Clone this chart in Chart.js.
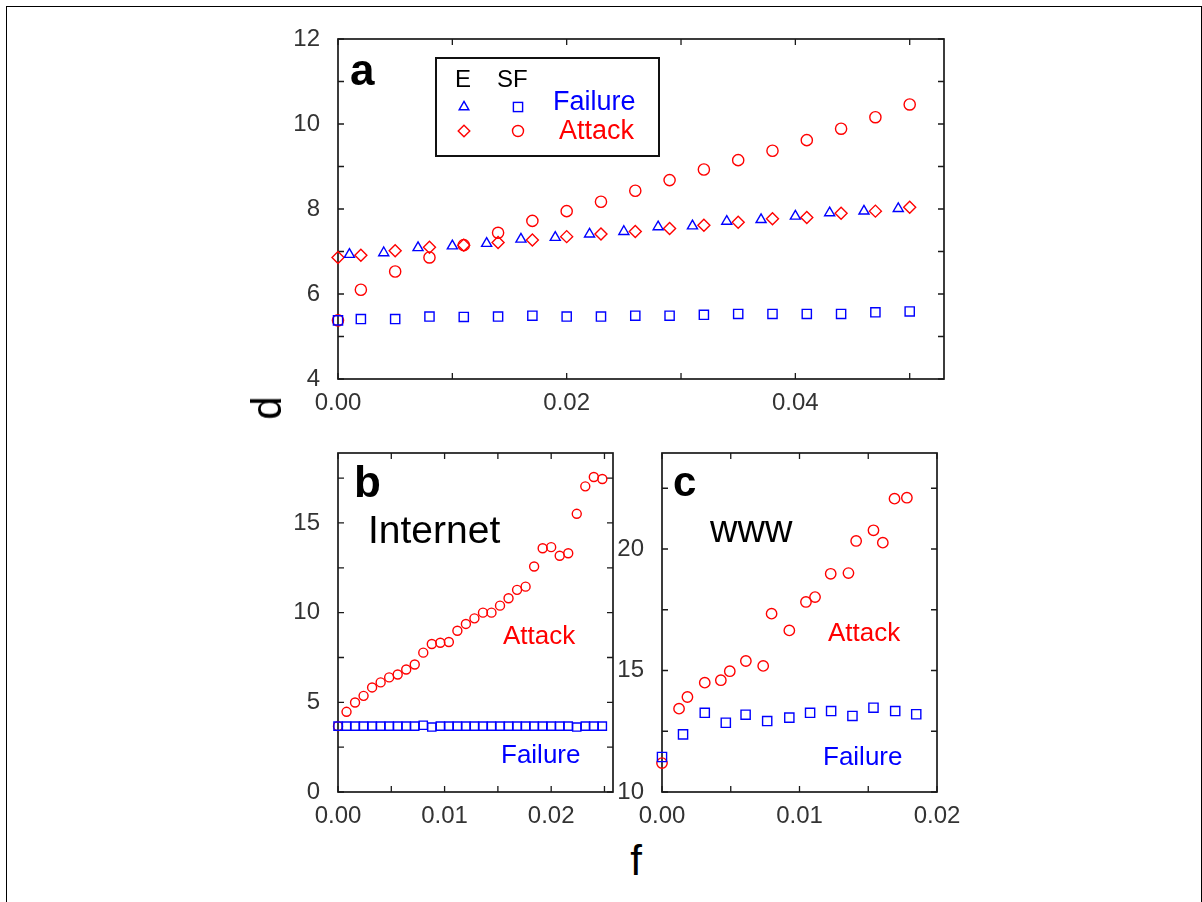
<!DOCTYPE html>
<html lang="en">
<head>
<meta charset="UTF-8" />
<title>Network diameter under failure and attack</title>
<script src="https://cdn.jsdelivr.net/npm/chart.js"></script>
<style>
  * { margin: 0; padding: 0; box-sizing: border-box; }
  body {
    width: 1202px; height: 902px; background: #fff;
    position: relative; overflow: hidden;
    font-family: 'Liberation Sans', Arial, sans-serif;
  }
  .frame {
    position: absolute; left: 6px; top: 6px; width: 1196px; height: 920px;
    border: 1.5px solid #000; border-bottom: none;
  }
  canvas { position: absolute; }
  .txt { position: absolute; white-space: nowrap; line-height: 1; }
  .red { color: #ff0000; }
  .blue { color: #0000ff; }
  .legend-box {
    position: absolute; left: 435px; top: 57px; width: 225px; height: 100px;
    border: 2px solid #111;
  }
</style>
</head>
<body>
<div class="frame"></div>

<!-- plot areas: a 338..944 x 39..379, b 338..613 x 453..792, c 662..937 x 453..792 -->
<canvas id="chartA" width="720" height="417" style="left:258px; top:3px;"></canvas>
<canvas id="chartB" width="360" height="413" style="left:290px; top:417px;"></canvas>
<canvas id="chartC" width="390" height="413" style="left:600px; top:417px;"></canvas>

<!-- legend of panel a -->
<div class="legend-box"></div>
<svg style="position:absolute; left:0; top:0;" width="1202" height="200">
  <g fill="none" stroke-width="1.4">
    <polygon points="464,101.4 468.85,109.8 459.15,109.8" stroke="#0000ff"/>
    <rect x="513.4" y="102.4" width="9.2" height="9.2" stroke="#0000ff"/>
    <polygon points="464,125.2 469.8,131 464,136.8 458.2,131" stroke="#ff0000"/>
    <circle cx="518" cy="131" r="5.5" stroke="#ff0000"/>
  </g>
</svg>
<div class="txt" style="left:455px; top:66.7px; font-size:24px;">E</div>
<div class="txt" style="left:497px; top:66.7px; font-size:24px;">SF</div>
<div class="txt blue" style="left:553px; top:88px; font-size:27px;">Failure</div>
<div class="txt red" style="left:559px; top:117px; font-size:27px;">Attack</div>

<!-- panel labels -->
<div class="txt" style="left:350px; top:48px; font-size:44px; font-weight:bold;">a</div>
<div class="txt" style="left:354px; top:460px; font-size:44px; font-weight:bold;">b</div>
<div class="txt" style="left:673px; top:461px; font-size:42px; font-weight:bold;">c</div>
<div class="txt" style="left:368px; top:510px; font-size:39px;">Internet</div>
<div class="txt" style="left:710px; top:510px; font-size:38px;">www</div>
<div class="txt red" style="left:503px; top:622px; font-size:26px;">Attack</div>
<div class="txt blue" style="left:501px; top:741px; font-size:26px;">Failure</div>
<div class="txt red" style="left:828px; top:619px; font-size:26px;">Attack</div>
<div class="txt blue" style="left:823px; top:743px; font-size:26px;">Failure</div>

<!-- axis titles -->
<div class="txt" style="left:267px; top:408px; font-size:42px; transform:translate(-50%,-50%) rotate(-90deg);">d</div>
<div class="txt" style="left:636px; top:861px; font-size:42px; transform:translate(-50%,-50%);">f</div>

<script>
// ---- panel a : exponential (E) vs scale-free (SF) model ----
const aSfX = [0, 0.002, 0.005, 0.008, 0.011, 0.014, 0.017, 0.020, 0.023, 0.026, 0.029, 0.032, 0.035, 0.038, 0.041, 0.044, 0.047, 0.050];
const aSfFailure = [5.38, 5.41, 5.41, 5.47, 5.46, 5.47, 5.49, 5.47, 5.47, 5.49, 5.49, 5.51, 5.53, 5.53, 5.53, 5.53, 5.57, 5.59];
const aSfAttack = [5.38, 6.10, 6.53, 6.86, 7.15, 7.44, 7.72, 7.95, 8.17, 8.43, 8.68, 8.93, 9.15, 9.37, 9.62, 9.89, 10.16, 10.46];
const aEAttack = [6.86, 6.91, 7.02, 7.10, 7.15, 7.21, 7.27, 7.35, 7.41, 7.47, 7.54, 7.62, 7.69, 7.77, 7.80, 7.90, 7.95, 8.04];
const aEFailX = [0.001, 0.004, 0.007, 0.010, 0.013, 0.016, 0.019, 0.022, 0.025, 0.028, 0.031, 0.034, 0.037, 0.040, 0.043, 0.046, 0.049];
const aEFailure = [6.93, 6.97, 7.09, 7.13, 7.19, 7.29, 7.33, 7.41, 7.47, 7.58, 7.60, 7.71, 7.75, 7.83, 7.91, 7.95, 8.01];

// ---- panel b : Internet ----
const bX = [0, 0.0008, 0.0016, 0.0024, 0.0032, 0.0040, 0.0048, 0.0056, 0.0064, 0.0072, 0.0080, 0.0088, 0.0096, 0.0104, 0.0112, 0.0120,
            0.0128, 0.0136, 0.0144, 0.0152, 0.0160, 0.0168, 0.0176, 0.0184, 0.0192, 0.0200, 0.0208, 0.0216, 0.0224, 0.0232, 0.0240, 0.0248];
const bAttack = [3.67, 4.47, 4.99, 5.36, 5.83, 6.11, 6.39, 6.55, 6.83, 7.11, 7.77, 8.25, 8.32, 8.36, 8.99, 9.37,
                 9.68, 10.0, 10.0, 10.39, 10.80, 11.27, 11.45, 12.57, 13.59, 13.65, 13.17, 13.31, 15.51, 17.04, 17.56, 17.45];
const bFailure = [3.67, 3.67, 3.67, 3.67, 3.67, 3.67, 3.67, 3.67, 3.67, 3.67, 3.72, 3.62, 3.67, 3.67, 3.67, 3.67,
                  3.67, 3.67, 3.67, 3.67, 3.67, 3.67, 3.67, 3.67, 3.67, 3.67, 3.67, 3.67, 3.62, 3.67, 3.67, 3.67];

// ---- panel c : WWW ----
const cAttackX = [0, 0.00124, 0.00185, 0.00311, 0.00428, 0.00493, 0.0061, 0.00736, 0.00797, 0.00926, 0.01047, 0.01113, 0.01227, 0.01356, 0.01412, 0.01538, 0.01606, 0.01691, 0.01781];
const cAttack = [11.19, 13.43, 13.91, 14.50, 14.60, 14.97, 15.39, 15.19, 17.34, 16.65, 17.82, 18.02, 18.98, 19.01, 20.33, 20.77, 20.26, 22.07, 22.11];
const cFailX = [0, 0.00153, 0.00311, 0.00464, 0.00608, 0.00765, 0.00926, 0.01077, 0.0123, 0.01385, 0.01538, 0.01696, 0.01849];
const cFailure = [11.44, 12.37, 13.26, 12.85, 13.18, 12.92, 13.06, 13.26, 13.33, 13.13, 13.47, 13.33, 13.20];

// ticks (marks) and tick labels
const aXTicks = [0, 0.01, 0.02, 0.03, 0.04, 0.05];
const aXLabels = [0, 0.02, 0.04];
const aYTicks = [4, 5, 6, 7, 8, 9, 10, 11, 12];
const aYLabels = [4, 6, 8, 10, 12];
const bXTicks = [0, 0.005, 0.01, 0.015, 0.02, 0.025];
const bXLabels = [0, 0.01, 0.02];
const bYTicks = [0, 2.5, 5, 7.5, 10, 12.5, 15, 17.5];
const bYLabels = [0, 5, 10, 15];
const cXTicks = [0, 0.005, 0.01, 0.015, 0.02];
const cXLabels = [0, 0.01, 0.02];
const cYTicks = [10, 12.5, 15, 17.5, 20, 22.5];
const cYLabels = [10, 15, 20];

const RED = '#ff0000', BLUE = '#0000ff';

Chart.defaults.font.family = "'Liberation Sans', Arial, sans-serif";
Chart.defaults.font.size = 24;
Chart.defaults.color = '#333';
Chart.defaults.animation = false;

// box round the plot area + inward ticks on the four sides
const frameTicks = {
  id: 'frameTicks',
  beforeDatasetsDraw(chart, args, opts) {
    const { ctx, chartArea: a, scales: { x, y } } = chart;
    const L = 6;
    ctx.save();
    ctx.strokeStyle = '#1a1a1a';
    ctx.lineWidth = 1.7;
    ctx.strokeRect(a.left, a.top, a.right - a.left, a.bottom - a.top);
    ctx.lineWidth = 1.3;
    ctx.beginPath();
    opts.xTicks.forEach(v => {
      const px = x.getPixelForValue(v);
      ctx.moveTo(px, a.bottom); ctx.lineTo(px, a.bottom - L);
      ctx.moveTo(px, a.top); ctx.lineTo(px, a.top + L);
    });
    opts.yTicks.forEach(v => {
      const py = y.getPixelForValue(v);
      ctx.moveTo(a.left, py); ctx.lineTo(a.left + L, py);
      ctx.moveTo(a.right, py); ctx.lineTo(a.right - L, py);
    });
    ctx.stroke();
    ctx.restore();
  }
};

function series(xs, ys, style, color, radius) {
  return {
    data: xs.map((v, i) => ({ x: v, y: ys[i] })),
    pointStyle: style,
    pointRadius: radius,
    borderColor: color,
    backgroundColor: 'rgba(0,0,0,0)',
    borderWidth: 1.4,
    clip: false
  };
}

function makePanel(id, datasets, p) {
  new Chart(document.getElementById(id), {
    type: 'scatter',
    data: { datasets },
    plugins: [frameTicks],
    options: {
      responsive: false,
      devicePixelRatio: 1,
      // top padding kept above the y-axis label overhang so it is the value used
      layout: { padding: { left: 0, top: 36, right: p.padRight, bottom: 0 } },
      plugins: {
        legend: { display: false },
        tooltip: { enabled: false },
        frameTicks: { xTicks: p.xTicks, yTicks: p.yTicks }
      },
      scales: {
        x: {
          type: 'linear', min: p.xMin, max: p.xMax,
          grid: { display: false, drawTicks: false },
          border: { display: false },
          afterBuildTicks: s => { s.ticks = p.xLabels.map(v => ({ value: v })); },
          afterFit: s => { s.height = p.xHeight; },
          ticks: { padding: 10, autoSkip: false, maxRotation: 0, callback: v => v.toFixed(2) }
        },
        y: {
          type: 'linear', min: p.yMin, max: p.yMax,
          grid: { display: false, drawTicks: false },
          border: { display: false },
          afterBuildTicks: s => { s.ticks = p.yLabels.map(v => ({ value: v })); },
          afterFit: s => { s.width = p.yWidth; },
          ticks: { padding: 18, autoSkip: false, callback: v => String(v) }
        }
      }
    }
  });
}

makePanel('chartA', [
  series(aEFailX, aEFailure, 'triangle', BLUE, 5.8),
  series(aSfX, aSfFailure, 'rect', BLUE, 6.5),
  series(aSfX, aEAttack, 'rectRot', RED, 6),
  series(aSfX, aSfAttack, 'circle', RED, 5.6)
], {
  xMin: 0, xMax: 0.053, yMin: 4, yMax: 12,
  xTicks: aXTicks, xLabels: aXLabels, yTicks: aYTicks, yLabels: aYLabels,
  padRight: 34, xHeight: 41, yWidth: 80
});

makePanel('chartB', [
  series(bX, bFailure, 'rect', BLUE, 5.8),
  series(bX, bAttack, 'circle', RED, 4.5)
], {
  xMin: 0, xMax: 0.0258, yMin: 0, yMax: 18.9,
  xTicks: bXTicks, xLabels: bXLabels, yTicks: bYTicks, yLabels: bYLabels,
  padRight: 37, xHeight: 38, yWidth: 48
});

makePanel('chartC', [
  series(cFailX, cFailure, 'rect', BLUE, 6.5),
  series(cAttackX, cAttack, 'circle', RED, 5.2)
], {
  xMin: 0, xMax: 0.02, yMin: 10, yMax: 23.95,
  xTicks: cXTicks, xLabels: cXLabels, yTicks: cYTicks, yLabels: cYLabels,
  padRight: 53, xHeight: 38, yWidth: 62
});
</script>
</body>
</html>
